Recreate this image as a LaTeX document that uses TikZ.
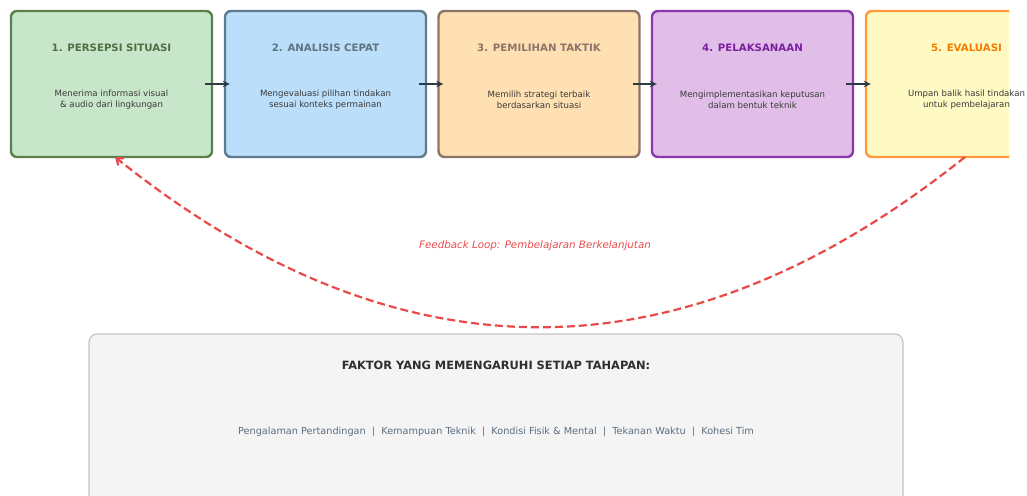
\documentclass[tikz,border=0pt]{standalone}
\usepackage{fontspec}
\setmainfont{DejaVu Sans}
\usetikzlibrary{arrows.meta}
\definecolor{gfill}{HTML}{C8E6C9}\definecolor{gedge}{HTML}{5B7F4E}\definecolor{gtext}{HTML}{4F6F45}
\definecolor{bfill}{HTML}{BBDEFB}\definecolor{bedge}{HTML}{5F7B8C}\definecolor{btext}{HTML}{5F7480}
\definecolor{ofill}{HTML}{FFE0B2}\definecolor{oedge}{HTML}{8D7468}\definecolor{otext}{HTML}{8D7468}
\definecolor{pfill}{HTML}{E1BEE7}\definecolor{pedge}{HTML}{8E35B0}\definecolor{ptext}{HTML}{7B1FA2}
\definecolor{yfill}{HTML}{FFF9C4}\definecolor{yedge}{HTML}{FF9A3C}\definecolor{ytext}{HTML}{F57C00}
\definecolor{desc}{HTML}{3A3A3A}
\definecolor{flow}{HTML}{2C3A45}
\definecolor{loop}{HTML}{E84A4A}
\definecolor{panel}{HTML}{F4F4F4}\definecolor{paneledge}{HTML}{C4C4C4}
\definecolor{factor}{HTML}{5D6D7E}
\begin{document}
\begin{tikzpicture}[x=1pt,y=-1pt,
  stage/.style={draw, line width=2.4pt, rounded corners=6pt, minimum width=201pt, minimum height=146pt, inner sep=0pt},
  stitle/.style={font=\fontsize{10.2}{12}\selectfont\bfseries, inner sep=0pt},
  sdesc/.style={font=\fontsize{8.6}{11}\selectfont, text=desc, align=center, inner sep=0pt},
  flowarrow/.style={draw=flow, line width=1.9pt, -{Stealth[length=7pt,width=6.5pt]}},
  looparrow/.style={draw=loop, line width=2.2pt, dash pattern=on 8pt off 4pt, -{Straight Barb[length=6pt,width=9pt]}}]
\useasboundingbox (0,0) rectangle (1027,495);
\clip (0,0) rectangle (1027,495);

% process stages
\node[stage, draw=gedge, fill=gfill] (s1) at (111.5,84) {};
\node[stage, draw=bedge, fill=bfill] (s2) at (325.5,84) {};
\node[stage, draw=oedge, fill=ofill] (s3) at (539,84) {};
\node[stage, draw=pedge, fill=pfill] (s4) at (752.5,84) {};
\begin{scope}
  \clip (850,0) rectangle (1009,200);
  \node[stage, draw=yedge, fill=yfill] (s5) at (966.5,84) {};
\end{scope}

% stage texts (titles above centre, descriptions below)
\node[stitle, text=gtext] (t1) at ([yshift=36pt]s1.center) {1. PERSEPSI SITUASI};
\node[sdesc] (d1) at ([yshift=-15.5pt]s1.center) {Menerima informasi visual\\\& audio dari lingkungan};
\node[stitle, text=btext] (t2) at ([yshift=36pt]s2.center) {2. ANALISIS CEPAT};
\node[sdesc] (d2) at ([yshift=-15.5pt]s2.center) {Mengevaluasi pilihan tindakan\\sesuai konteks permainan};
\node[stitle, text=otext] (t3) at ([yshift=36pt]s3.center) {3. PEMILIHAN TAKTIK};
\node[sdesc] (d3) at ([yshift=-15.5pt]s3.center) {Memilih strategi terbaik\\berdasarkan situasi};
\node[stitle, text=ptext] (t4) at ([yshift=36pt]s4.center) {4. PELAKSANAAN};
\node[sdesc] (d4) at ([yshift=-15.5pt]s4.center) {Mengimplementasikan keputusan\\dalam bentuk teknik};
\node[stitle, text=ytext] (t5) at ([yshift=36pt]s5.center) {5. EVALUASI};
\node[sdesc] (d5) at ([yshift=-15.5pt]s5.center) {Umpan balik hasil tindakan\\untuk pembelajaran};

% flow between stages
\draw[flowarrow] ([xshift=-8pt]s1.east) -- ([xshift=6pt]s2.west);
\draw[flowarrow] ([xshift=-8pt]s2.east) -- ([xshift=6pt]s3.west);
\draw[flowarrow] ([xshift=-8pt]s3.east) -- ([xshift=6pt]s4.west);
\draw[flowarrow] ([xshift=-8pt]s4.east) -- ([xshift=6pt]s5.west);

% feedback loop
\coordinate (fbstart) at (965,157);
\coordinate (fbend) at (115,157);
\draw[looparrow] (fbstart) .. controls (681.7,383.7) and (398.3,383.7) .. (fbend);
\node[font=\fontsize{10.3}{12}\selectfont\itshape, text=loop, inner sep=0pt] (fblabel) at (535,246) {Feedback Loop: Pembelajaran Berkelanjutan};

% influencing factors panel
\node[draw=paneledge, fill=panel, line width=1.2pt, rounded corners=8pt, minimum width=814pt, minimum height=180pt, inner sep=0pt] (panel) at (496,424) {};
\node[font=\fontsize{11.4}{13}\selectfont\bfseries, text=black!82, inner sep=0pt] (ptitle) at (496,365) {FAKTOR YANG MEMENGARUHI SETIAP TAHAPAN:};
\node[font=\fontsize{9.7}{12}\selectfont, text=factor, inner sep=0pt] (plist) at (496,432) {Pengalaman Pertandingan~~|~~Kemampuan Teknik~~|~~Kondisi Fisik \& Mental~~|~~Tekanan Waktu~~|~~Kohesi Tim};
\end{tikzpicture}
\end{document}
